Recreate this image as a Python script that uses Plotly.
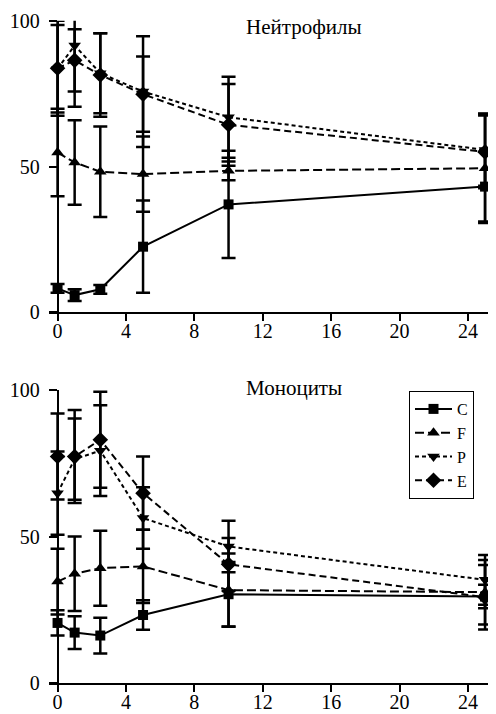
import plotly.graph_objects as go

hours = [0, 1, 2.5, 5, 10, 25]
series_names = ["C", "F", "P", "E"]

# Нейтрофилы
neut_C = [8.2, 5.9, 7.9, 22.5, 37.0, 43.1]
neut_C_err = [1.5, 2.0, 1.5, 15.8, 18.4, 12.0]
neut_F = [54.8, 51.4, 48.2, 47.4, 48.5, 49.4]
neut_F_err = [15.0, 14.5, 15.5, 12.9, 3.2, 18.8]
neut_P = [83.5, 91.5, 82.0, 75.7, 66.9, 55.7]
neut_P_err = [15.0, 21.0, 13.7, 19.0, 13.9, 12.3]
neut_E = [83.7, 86.4, 81.4, 74.8, 64.3, 55.0]
neut_E_err = [16.3, 10.7, 14.3, 12.9, 14.0, 12.5]

# Моноциты
mono_C = [20.5, 17.2, 16.2, 23.2, 30.3, 29.5]
mono_C_err = [4.3, 5.6, 6.1, 5.0, 11.0, 4.0]
mono_F = [34.6, 37.3, 39.2, 39.8, 31.7, 31.0]
mono_F_err = [11.2, 12.7, 12.8, 12.5, 12.5, 11.0]
mono_P = [64.8, 76.4, 79.3, 56.3, 46.6, 35.2]
mono_P_err = [14.2, 13.9, 15.5, 10.5, 8.8, 8.5]
mono_E = [77.3, 77.3, 83.0, 64.8, 40.5, 29.3]
mono_E_err = [14.7, 15.9, 16.4, 12.5, 9.0, 11.0]

x_ticks = [0, 4, 8, 12, 16, 20, 24]
y_ticks = [0, 50, 100]
panel_titles = ["Нейтрофилы", "Моноциты"]

FONT = "Liberation Serif, Times New Roman, DejaVu Serif, serif"
styles = {
    "C": dict(dash="solid", symbol="square", size=10),
    "F": dict(dash="9px,4px", symbol="triangle-up", size=11),
    "P": dict(dash="4px,3px", symbol="triangle-down", size=11),
    "E": dict(dash="7px,4px", symbol="diamond", size=12),
}

panels = [
    ("x", "y", [neut_C, neut_F, neut_P, neut_E],
     [neut_C_err, neut_F_err, neut_P_err, neut_E_err], False),
    ("x2", "y2", [mono_C, mono_F, mono_P, mono_E],
     [mono_C_err, mono_F_err, mono_P_err, mono_E_err], True),
]

fig = go.Figure()
for xa, ya, vals, errs, show in panels:
    for name, v, e in zip(series_names, vals, errs):
        st = styles[name]
        fig.add_trace(go.Scatter(
            x=hours, y=v, name=name, xaxis=xa, yaxis=ya,
            mode="lines+markers", showlegend=show, cliponaxis=False,
            line=dict(color="black", width=2, dash=st["dash"]),
            marker=dict(color="black", symbol=st["symbol"], size=st["size"]),
            error_y=dict(type="data", array=e, visible=True, color="black",
                         thickness=2.5, width=7),
        ))

axis_common = dict(showline=True, linecolor="black", linewidth=1.5,
                   ticks="outside", tickwidth=1.5, tickcolor="black",
                   showgrid=False, zeroline=False, automargin=False,
                   tickfont=dict(family=FONT, size=20, color="black"))
xaxis_style = dict(ticklen=7, ticklabelstandoff=-7, **axis_common)
yaxis_style = dict(ticklen=8, ticklabelstandoff=5, **axis_common)

# page body has an 8px margin: figure pixel = screen pixel - 8
OFF = 8
W, H = 496 - OFF, 714 - OFF
L, R, T, B = 49 - OFF, 0, 12, 31
pw = W - L - R
ph = H - T - B
xr = [-0.5, -0.5 + pw / 17.1]
ypos = 0.5 * 17.1 / pw


def py(screen_y):
    return min(1.0, max(0.0, (H - B - (screen_y - OFF)) / ph))


def px(screen_x):
    return (screen_x - OFF - L) / pw


fig.update_layout(
    width=W, height=H,
    margin=dict(l=L, r=R, t=T, b=B, autoexpand=False),
    paper_bgcolor="white", plot_bgcolor="white",
    font=dict(family=FONT, size=20, color="black"),
    xaxis=dict(domain=[0, 1], anchor="y", range=xr, tickvals=x_ticks, **xaxis_style),
    yaxis=dict(domain=[py(312.3), py(20.7)], anchor="free", position=ypos,
               range=[0, 100], tickvals=y_ticks, **yaxis_style),
    xaxis2=dict(domain=[0, 1], anchor="y2", range=xr, tickvals=x_ticks, **xaxis_style),
    yaxis2=dict(domain=[py(683.3), py(390)], anchor="free", position=ypos,
                range=[0, 100], tickvals=y_ticks, **yaxis_style),
    legend=dict(x=px(409), y=py(391), xanchor="left", yanchor="top",
                bordercolor="black", borderwidth=1, bgcolor="white",
                font=dict(family=FONT, size=16, color="black"),
                itemwidth=37, tracegroupgap=0),
    showlegend=True,
)

fig.add_annotation(text=panel_titles[0], xref="paper", yref="paper",
                   x=px(244), y=py(27), xanchor="left", yanchor="middle",
                   showarrow=False, font=dict(family=FONT, size=21, color="black"))
fig.add_annotation(text=panel_titles[1], xref="paper", yref="paper",
                   x=px(244), y=py(388), xanchor="left", yanchor="middle",
                   showarrow=False, font=dict(family=FONT, size=21, color="black"))

fig.write_html("out.html")
